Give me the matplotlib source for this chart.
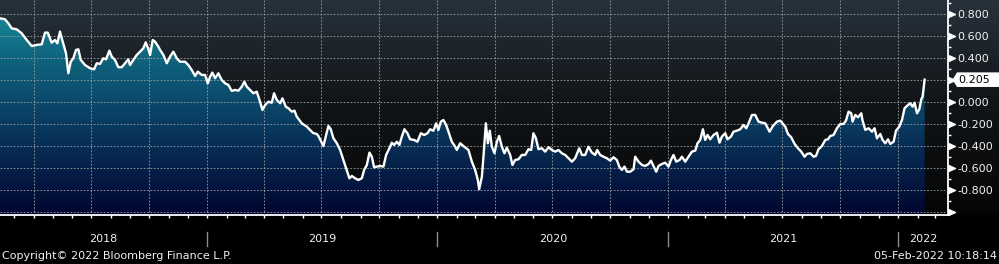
import numpy as np
import pandas as pd
import matplotlib
matplotlib.use('Agg')
import matplotlib.pyplot as plt
import matplotlib.dates as mdates
import matplotlib.transforms as mtransforms
from matplotlib.colors import LinearSegmentedColormap
from matplotlib.ticker import MultipleLocator, FuncFormatter
from matplotlib.path import Path
from matplotlib.patches import Polygon

# ---------------- data ----------------
start_date = '2018-02-06'
end_date = '2022-03-21'
day_offsets = [
    0, 7.9, 13.2, 18.5, 26.5, 34.4, 42.4, 50.3, 58.2, 66.2, 71.4, 75.7, 82.0, 87.3, 91.0, 95.2, 99.5, 104.7, 108.4, 112.2,
    116.3, 120.6, 124.3, 128.1, 134.9, 142.8, 149.2, 153.5, 158.7, 163.9, 168.2, 173.5, 177.3, 182.5, 187.7, 193.1, 198.4,
    203.6, 206.3, 211.5, 216.9, 222.2, 227.4, 231.2, 235.4, 238.1, 242.3, 246.0, 251.2, 253.9,
    259.2, 264.6, 269.8, 275.0, 280.4, 285.7, 293.6, 298.8, 304.2, 309.5, 313.7, 320.1, 325.3, 329.6, 333.3, 336.9, 341.2,
    346.4, 351.8, 357.1, 362.3, 367.7, 373.0, 378.2, 383.6, 387.7, 391.5, 396.8, 402.0, 407.4, 412.6, 416.3, 420.6, 425.8,
    431.2, 434.8, 439.1, 444.4, 448.0, 453.4, 457.5, 462.9, 467.1, 470.9, 478.8, 486.7, 492.0, 496.7, 502.6,
    505.1, 513.1, 517.4, 521.0, 524.8, 529.0, 534.4, 539.6, 544.8, 549.1, 554.3, 558.2, 563.4, 568.6, 574.0, 577.7, 582.0,
    586.1, 589.9, 593.5, 597.8, 603.1, 608.3, 612.6, 617.8, 621.6, 625.3, 629.6, 633.7, 637.5, 641.6, 646.4, 650.7, 657.0,
    662.3, 667.7, 672.9, 678.1, 682.4, 687.6, 691.9, 695.6, 699.4, 703.5, 707.8, 711.5, 716.8, 722.1, 724.8, 730.0, 736.4, 743.2,
    748.6, 753.8, 758.1, 760.2, 764.5, 767.0, 770.8, 774.0, 777.1, 780.3, 784.5, 788.3, 791.9, 796.2, 800.3, 804.1, 809.4,
    813.0, 817.3, 822.6, 827.9, 833.2, 838.4, 842.7, 846.3, 850.2, 854.3, 859.7, 864.9, 870.2, 875.5, 880.8, 886.0, 891.4,
    896.7, 901.9, 907.3, 912.5, 918.9, 923.2, 928.4, 933.6, 939.0, 944.3, 947.4, 952.2, 957.4, 962.8, 968.1, 973.3, 978.7,
    982.4, 986.6, 990.8,
    994.6, 999.8, 1005.1, 1007.7, 1013.0, 1018.4, 1023.6, 1028.9, 1032.7, 1036.8, 1041.1, 1044.7, 1050.1, 1055.4, 1060.6,
    1064.4, 1068.5, 1072.8, 1078.1, 1081.9, 1087.1, 1092.3, 1097.7, 1103.0, 1106.6, 1110.9, 1115.2, 1118.8, 1122.5, 1126.8,
    1132.0, 1137.4, 1141.5, 1145.3, 1150.6, 1154.2, 1159.6, 1163.7, 1169.1, 1174.4, 1179.6, 1183.9, 1187.6, 1193.0, 1198.2,
    1203.4, 1208.8, 1214.1, 1220.9, 1226.3, 1232.6, 1237.9,
    1245.8, 1250.1, 1255.3, 1260.6, 1266.0, 1271.2, 1276.4, 1280.2, 1285.5, 1290.7, 1294.5, 1298.6, 1304.0, 1309.3, 1313.6,
    1317.2, 1322.4, 1327.8, 1333.1, 1338.3, 1342.1, 1346.3, 1350.5, 1352.6, 1356.9, 1361.2, 1366.4, 1368.5, 1372.8, 1378.0,
    1383.4, 1387.5, 1391.3, 1396.6, 1400.2, 1404.5, 1408.8, 1412.4, 1417.7, 1421.5, 1426.7, 1431.0, 1435.1, 1440.5, 1444.2,
    1447.8, 1451.0, 1454.8, 1458.5, 1461.6, 1463.7, 1466.9,
]
values = [
    0.762, 0.753, 0.717, 0.671, 0.662, 0.626, 0.565, 0.511, 0.520, 0.526, 0.632, 0.632, 0.541, 0.565, 0.535, 0.641, 0.550,
    0.445, 0.263, 0.368, 0.399, 0.475, 0.481, 0.384, 0.338, 0.309, 0.299, 0.354, 0.348, 0.399, 0.390, 0.468, 0.414, 0.384,
    0.318, 0.318, 0.354, 0.390, 0.338, 0.384, 0.429, 0.459, 0.490, 0.544, 0.481, 0.429, 0.565, 0.550, 0.505, 0.475,
    0.429, 0.354, 0.414, 0.459, 0.399, 0.368, 0.368, 0.338, 0.293, 0.239, 0.278, 0.248, 0.248, 0.172, 0.232, 0.269, 0.218,
    0.263, 0.202, 0.172, 0.157, 0.103, 0.112, 0.105, 0.142, 0.187, 0.142, 0.112, 0.082, 0.096, 0.005, -0.070, -0.025, 0.005,
    -0.004, 0.082, 0.021, -0.009, 0.036, -0.040, -0.054, -0.085, -0.076, -0.131, -0.191, -0.221, -0.251, -0.279, -0.288,
    -0.306, -0.397, -0.297, -0.215, -0.245, -0.327, -0.372, -0.433, -0.524, -0.599, -0.690, -0.669, -0.690, -0.705, -0.690,
    -0.614, -0.569, -0.457, -0.494, -0.590, -0.584, -0.578, -0.584, -0.478, -0.417, -0.367, -0.387, -0.358, -0.387, -0.312,
    -0.245, -0.281, -0.336, -0.342, -0.358, -0.281, -0.297, -0.281, -0.245, -0.258, -0.191, -0.251, -0.176, -0.161, -0.206,
    -0.267, -0.358, -0.403, -0.433, -0.372, -0.403, -0.433,
    -0.539, -0.614, -0.705, -0.789, -0.675, -0.494, -0.191, -0.372, -0.258, -0.403, -0.463, -0.358, -0.306, -0.403, -0.463,
    -0.412, -0.478, -0.569, -0.524, -0.517, -0.478, -0.478, -0.426, -0.433, -0.281, -0.327, -0.426, -0.417, -0.448, -0.408,
    -0.433, -0.448, -0.433, -0.463, -0.478, -0.508, -0.539, -0.508, -0.417, -0.478, -0.478, -0.403, -0.457, -0.478, -0.433,
    -0.478, -0.494, -0.508, -0.530, -0.499, -0.524, -0.584, -0.614, -0.584,
    -0.630, -0.630, -0.608, -0.494, -0.539, -0.569, -0.578, -0.560, -0.530, -0.578, -0.630, -0.578, -0.560, -0.548, -0.584,
    -0.524, -0.478, -0.539, -0.524, -0.494, -0.539, -0.494, -0.448, -0.439, -0.372, -0.342, -0.245, -0.342, -0.297, -0.336,
    -0.297, -0.276, -0.367, -0.312, -0.281, -0.336, -0.312, -0.267, -0.258, -0.245, -0.206, -0.236, -0.191, -0.115, -0.115,
    -0.176, -0.185, -0.191, -0.267, -0.215, -0.176, -0.167,
    -0.221, -0.288, -0.318, -0.378, -0.417, -0.448, -0.494, -0.469, -0.463, -0.494, -0.487, -0.426, -0.397, -0.342, -0.336,
    -0.306, -0.297, -0.236, -0.197, -0.197, -0.167, -0.085, -0.100, -0.176, -0.115, -0.136, -0.100, -0.167, -0.251, -0.236,
    -0.267, -0.236, -0.327, -0.288, -0.342, -0.372, -0.336, -0.378, -0.358, -0.258, -0.221, -0.161, -0.054, -0.025, -0.009,
    -0.040, -0.004, -0.100, -0.064, 0.027, 0.051, 0.205,
]
y_major_ticks = [-1.0, -0.8, -0.6, -0.4, -0.2, 0.0, 0.2, 0.4, 0.6, 0.8]
y_limits = (-1.023, 0.928)
year_labels = ['2018', '2019', '2020', '2021', '2022']
copyright_text = 'Copyright\u00a9 2022 Bloomberg Finance L.P.'
timestamp_text = '05-Feb-2022 10:18:14'

n = min(len(day_offsets), len(values))
dates = pd.Timestamp(start_date) + pd.to_timedelta(np.array(day_offsets[:n]), unit='D')
xs = mdates.date2num(dates)
vals = np.array(values[:n])
x0 = mdates.date2num(pd.Timestamp(start_date))
x1 = mdates.date2num(pd.Timestamp(end_date))
last = vals[-1]

plt.rcParams['axes.unicode_minus'] = False
plt.rcParams['font.family'] = ['DejaVu Sans']

W, H = 999, 264
fig = plt.figure(figsize=(W / 100, H / 100), dpi=100, facecolor='black')

ax_bottom_px = 215
ax_right_px = 948
axpos = [0, 1 - ax_bottom_px / H, ax_right_px / W, ax_bottom_px / H]

# figure background gradient (plot band incl. right label area)
bg = fig.add_axes([0, axpos[1], 1, axpos[3]], zorder=-5)
bg_cmap = LinearSegmentedColormap.from_list('bg', [(0, '#050505'), (0.55, '#121619'), (1, '#27323c')])
bg.imshow(np.linspace(0, 1, 256).reshape(-1, 1), cmap=bg_cmap, aspect='auto',
          origin='lower', extent=[0, 1, 0, 1])
bg.set_axis_off()

ax = fig.add_axes(axpos)
ax.set_facecolor('none')

# gradient fill under the line
fill_cmap = LinearSegmentedColormap.from_list(
    'fill', [(0, '#010530'), (0.45, '#0a3e63'), (0.75, '#10677f'), (1, '#1b93a2')])
im = ax.imshow(np.linspace(0, 1, 256).reshape(-1, 1), cmap=fill_cmap, aspect='auto',
               origin='lower', extent=[x0, x1, y_limits[0], y_limits[1]], zorder=1,
               interpolation='bilinear')
poly = ax.fill_between(xs, vals, y_limits[0], facecolor='none', edgecolor='none', zorder=1)
im.set_clip_path(poly.get_paths()[0], transform=ax.transData)
ax.set_xlim(x0, x1)
ax.set_ylim(*y_limits)

ax.plot(xs, vals, color='white', lw=1.7, zorder=4, solid_joinstyle='round')

# axes styling
for s in ['top', 'left']:
    ax.spines[s].set_visible(False)
ax.spines['right'].set_color('white')
ax.spines['right'].set_linewidth(1.3)
ax.spines['bottom'].set_color('white')
ax.spines['bottom'].set_linewidth(1.3)

ax.yaxis.tick_right()
ax.set_yticks(y_major_ticks)
ax.yaxis.set_minor_locator(MultipleLocator(0.1))
ax.yaxis.set_major_formatter(FuncFormatter(
    lambda v, p: '' if (v < -0.9 or abs(v - last) < 0.1) else f'{v:.3f}'))
ax.tick_params(axis='y', which='major', length=0, pad=6.5, labelsize=8, labelcolor='#f2f2f2')
ax.tick_params(axis='y', which='minor', length=2.5, width=1, color='white', direction='out')

ax.xaxis.set_major_locator(mdates.MonthLocator(bymonth=[1, 4, 7, 10]))
ax.xaxis.set_minor_locator(mdates.MonthLocator())
ax.xaxis.set_major_formatter(FuncFormatter(lambda v, p: ''))
ax.tick_params(axis='x', which='both', length=2.5, width=1, color='white', direction='out')

ax.set_axisbelow(False)
ax.grid(True, which='major', color='#9aa0a4', lw=0.75, ls=(0, (1.6, 1.6)), alpha=0.85)

# triangle markers for major y ticks
tri = Path([(0, -0.45), (1, 0), (0, 0.45), (0, -0.45)])
ax.plot(np.ones(len(y_major_ticks)), y_major_ticks, transform=ax.get_yaxis_transform(),
        marker=tri, ms=10, ls='none', color='white', clip_on=False, zorder=5)

# last value label: white tag with left pointer, drawn in pixel space
yl = ax.transData.transform((x0, last))[1]
hx0, hx1, hh = 952.5, 999.0, 7.3
tag = Polygon([(hx0, yl), (hx0 + 4.5, yl + hh), (hx1, yl + hh), (hx1, yl - hh), (hx0 + 4.5, yl - hh)],
              closed=True, facecolor='white', edgecolor='none', transform=None, zorder=6)
fig.add_artist(tag)
fig.text(958 / W, yl / H, f'{last:.3f}', ha='left', va='center', fontsize=8, color='black', zorder=7)

# year labels and separators
blend = mtransforms.blended_transform_factory(ax.transData, fig.transFigure)
bounds = [x0] + [mdates.date2num(pd.Timestamp(f'{y}-01-01')) for y in year_labels[1:]] + [x1]
for i, lab in enumerate(year_labels):
    xm = 0.5 * (bounds[i] + bounds[i + 1])
    ax.text(xm, (H - 239.5) / H, lab, transform=blend, ha='center', va='center', fontsize=8,
            color='#f0f0f0', clip_on=False)
for b in bounds[1:-1]:
    ax.plot([b, b], [(H - 245.5) / H, (H - 231.5) / H], transform=blend, color='#8c8c8c',
            lw=1, clip_on=False)

fig.text(2 / W, (H - 256) / H, copyright_text, ha='left', va='center', fontsize=8, color='#f0f0f0')
fig.text(997 / W, (H - 256) / H, timestamp_text, ha='right', va='center', fontsize=8, color='#f0f0f0')

fig.savefig('out.png', dpi=100, facecolor='black')
